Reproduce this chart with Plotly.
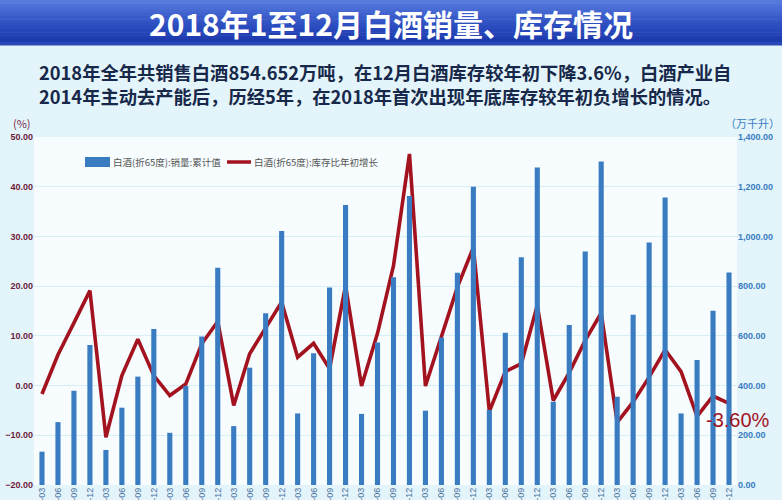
import plotly.graph_objects as go

years = ["2008", "2009", "2010", "2011", "2012", "2013", "2014", "2015", "2016", "2017", "2018"]
months = ["03", "06", "09", "12"]
quarters = [f"{y}-{m}" for y in years for m in months]

sales = [
    134, 253, 379, 563,
    141, 311, 436, 628,
    210, 398, 597, 874,
    237, 472, 691, 1022,
    288, 530, 795, 1126,
    286, 573, 836, 1163,
    299, 593, 854, 1200,
    302, 613, 916, 1277,
    335, 644, 939, 1301,
    355, 685, 976, 1157,
    288, 503, 701, 855,
]
stock_growth = [
    -1.7, 6.2, 12.6, 19.1,
    -10.4, 2.0, 9.3, 2.0,
    -2.0, 0.3, 8.4, 12.9,
    -4.0, 6.4, 11.6, 16.8,
    5.7, 8.5, 3.4, 20.1,
    -0.1, 10.5, 24.1, 46.6,
    -0.1, 10.1, 19.8, 27.8,
    -5.2, 2.8, 4.4, 16.1,
    -3.0, 2.6, 9.1, 14.6,
    -7.4, -3.3, 1.7, 7.2,
    2.8, -6.2, -2.1, -3.6,
]

title_text = "2018年1至12月白酒销量、库存情况"
sub1 = "2018年全年共销售白酒854.652万吨，在12月白酒库存较年初下降3.6%，白酒产业自"
sub2 = "2014年主动去产能后，历经5年，在2018年首次出现年底库存较年初负增长的情况。"
name_bar = "白酒(折65度):销量:累计值"
name_line = "白酒(折65度):库存比年初增长"
end_label = "-3.60%"

W, H = 782, 500
ML, MR, MT, MB = 34, 45, 137, 15
PW, PH = W - ML - MR, H - MT - MB

def px(x):
    return (x - ML) / PW

def py(y):
    return (H - MB - y) / PH

CJK = "Noto Sans CJK SC"
BLUE = "#3a7cc2"
RED = "#a3131f"

fig = go.Figure()
fig.add_trace(go.Bar(
    x=quarters, y=sales, name=name_bar, yaxis="y2",
    marker=dict(color=BLUE, line=dict(width=0)),
))
fig.add_trace(go.Scatter(
    x=quarters, y=stock_growth, name=name_line, mode="lines",
    line=dict(color=RED, width=3.6),
))

shapes = []
band_cols = ["#5679dc", "#4f72d8", "#4a6dd5", "#4467d1", "#3e61cd", "#385bc9",
             "#3355c5", "#2e50c1", "#2a4bbd", "#2646b9", "#2342b5", "#203eb1",
             "#1d3aad", "#2a48b5"]
n = len(band_cols)
for i, c in enumerate(band_cols):
    y0 = i * 45 / n
    y1 = (i + 1) * 45 / n + 0.5
    shapes.append(dict(type="rect", xref="paper", yref="paper",
                       x0=px(0), x1=px(W), y0=py(y1), y1=py(y0),
                       fillcolor=c, line=dict(width=0), layer="below"))

# custom legend
shapes.append(dict(type="rect", xref="paper", yref="paper",
                   x0=px(85), x1=px(110), y0=py(167), y1=py(157),
                   fillcolor=BLUE, line=dict(width=0)))
shapes.append(dict(type="line", xref="paper", yref="paper",
                   x0=px(227), x1=px(251), y0=py(162), y1=py(162),
                   line=dict(color=RED, width=3.5)))

annotations = [
    dict(text=f"<b>{title_text}</b>", xref="paper", yref="paper",
         x=px(391), y=py(23), xanchor="center", yanchor="middle",
         showarrow=False, font=dict(family=CJK, size=30, color="white")),
    dict(text=f"<b>{sub1}</b><br><b>{sub2}</b>", xref="paper", yref="paper",
         x=px(37), y=py(84), xanchor="left", yanchor="middle", align="left",
         showarrow=False, font=dict(family=CJK, size=18.3, color="#17284a")),
    dict(text="(%)", xref="paper", yref="paper",
         x=px(22), y=py(123), xanchor="center", yanchor="middle",
         showarrow=False, font=dict(family=CJK, size=11, color="#7a2a4a")),
    dict(text="（万千升）", xref="paper", yref="paper",
         x=px(752), y=py(123), xanchor="center", yanchor="middle",
         showarrow=False, font=dict(family=CJK, size=11, color=BLUE)),
    dict(text=name_bar, xref="paper", yref="paper",
         x=px(111), y=py(162), xanchor="left", yanchor="middle",
         showarrow=False, font=dict(family=CJK, size=9.5, color="#555555")),
    dict(text=name_line, xref="paper", yref="paper",
         x=px(252), y=py(162), xanchor="left", yanchor="middle",
         showarrow=False, font=dict(family=CJK, size=9.5, color="#555555")),
    dict(text=end_label, xref="paper", yref="paper",
         x=px(738), y=py(420), xanchor="center", yanchor="middle",
         showarrow=False, font=dict(family="Liberation Sans", size=20, color=RED)),
]

fig.update_layout(
    width=W, height=H,
    margin=dict(l=ML, r=MR, t=MT, b=MB, autoexpand=False),
    paper_bgcolor="#e3f5fa",
    plot_bgcolor="#f7fcfe",
    bargap=0.68,
    showlegend=False,
    xaxis=dict(type="category", tickangle=-90, automargin=False,
               tickfont=dict(family="Liberation Sans", size=9, color="#4a6fa0"),
               showgrid=False, showline=False, ticks=""),
    yaxis=dict(range=[-20, 50], dtick=10, tickformat=".2f", automargin=False,
               tickfont=dict(family="Liberation Sans", size=9, color="#6e1b3c", weight="bold"),
               gridcolor="#d6eff6", gridwidth=1, zeroline=False, showline=False),
    yaxis2=dict(range=[0, 1400], dtick=200, tickformat=",.2f", overlaying="y", side="right",
                automargin=False, showgrid=False, zeroline=False,
                tickfont=dict(family="Liberation Sans", size=9, color=BLUE, weight="bold")),
    shapes=shapes,
    annotations=annotations,
)

fig.write_html("out.html", config={"displayModeBar": False},
               post_script="document.body.style.margin='0';")
